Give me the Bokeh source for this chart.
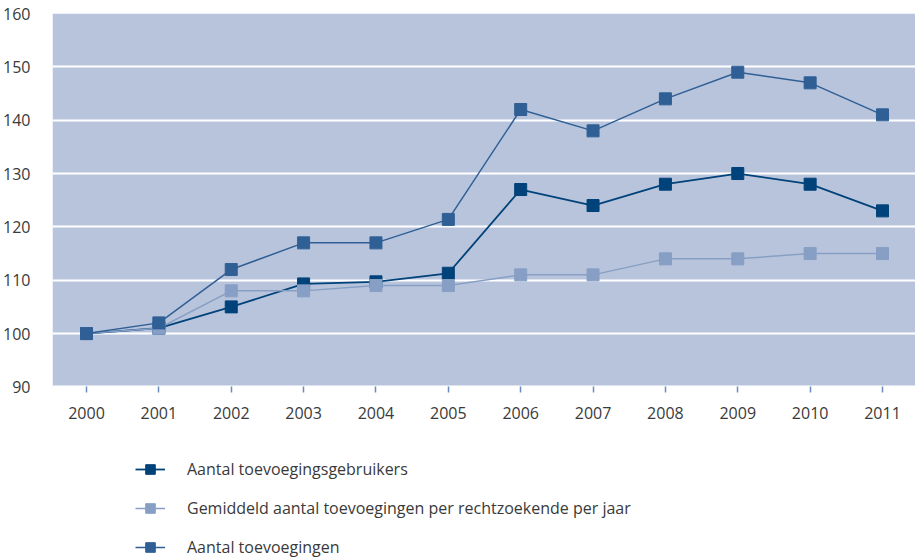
from bokeh.plotting import figure
from bokeh.models import Legend, LegendItem, FixedTicker, Range1d, BoxAnnotation
from bokeh.embed import file_html
from bokeh.resources import INLINE

years = [2000, 2001, 2002, 2003, 2004, 2005, 2006, 2007, 2008, 2009, 2010, 2011]
gebruikers = [100, 101, 105, 109.3, 109.7, 111.3, 127, 124, 128, 130, 128, 123]
gemiddeld = [100, 101, 108, 108, 109, 109, 111, 111, 114, 114, 115, 115]
toevoegingen = [100, 102, 112, 117, 117, 121.4, 142, 138, 144, 149, 147, 141]
y_ticks = [90, 100, 110, 120, 130, 140, 150, 160]
y_min, y_max = 90, 160

names = ["Aantal toevoegingsgebruikers",
         "Gemiddeld aantal toevoegingen per rechtzoekende per jaar",
         "Aantal toevoegingen"]
colors = ["#00427a", "#879fc4", "#2f5f95"]
widths = [1.8, 1.5, 1.5]

FONT = "Open Sans"
TXT = "#3a3a3a"

# frame extends below the value area so the legend can sit under the axis
p = figure(width=915, height=559, output_backend="svg", toolbar_location=None,
           x_range=Range1d(1999.53, 2011.456), y_range=Range1d(57.64, y_max),
           min_border_left=52, min_border_right=0, min_border_top=13,
           min_border_bottom=0)
p.background_fill_color = "white"
p.border_fill_color = "white"
p.outline_line_color = None

area = BoxAnnotation(bottom=y_min, top=y_max, fill_color="#b8c4dc", fill_alpha=1,
                     line_color=None, level="image")
p.add_layout(area)

p.xgrid.grid_line_color = None
p.ygrid.grid_line_color = "white"
p.ygrid.grid_line_width = 2
p.ygrid.ticker = FixedTicker(ticks=y_ticks)

p.xaxis.fixed_location = y_min
p.xaxis.ticker = FixedTicker(ticks=years)
p.xaxis.axis_line_color = None
p.xaxis.major_tick_line_color = "#6a8cbc"
p.xaxis.major_tick_line_width = 1.5
p.xaxis.major_tick_out = 6
p.xaxis.major_tick_in = 0
p.xaxis.minor_tick_line_color = None
p.xaxis.major_label_standoff = 14
p.xaxis.major_label_text_font = FONT
p.xaxis.major_label_text_font_size = "16px"
p.xaxis.major_label_text_color = TXT

p.yaxis.ticker = FixedTicker(ticks=y_ticks)
p.yaxis.axis_line_color = None
p.yaxis.major_tick_line_color = None
p.yaxis.minor_tick_line_color = None
p.yaxis.major_label_standoff = 16
p.yaxis.major_label_text_font = FONT
p.yaxis.major_label_text_font_size = "16px"
p.yaxis.major_label_text_color = TXT

items = []
for vals, name, c, w in zip([gebruikers, gemiddeld, toevoegingen], names, colors, widths):
    l = p.line(years, vals, line_color=c, line_width=w)
    m = p.scatter(years, vals, marker="square", size=12, fill_color=c, line_color=c)
    items.append(LegendItem(label=name, renderers=[l, m]))

legend = Legend(items=items, location=(83, 0), orientation="vertical",
                glyph_width=30, glyph_height=24, label_height=24, spacing=15,
                label_standoff=22, padding=0, margin=0,
                border_line_color=None, background_fill_alpha=0,
                label_text_font=FONT, label_text_font_size="16px",
                label_text_color=TXT)
p.add_layout(legend, "center")

open("out.html", "w").write(file_html(p, INLINE))
